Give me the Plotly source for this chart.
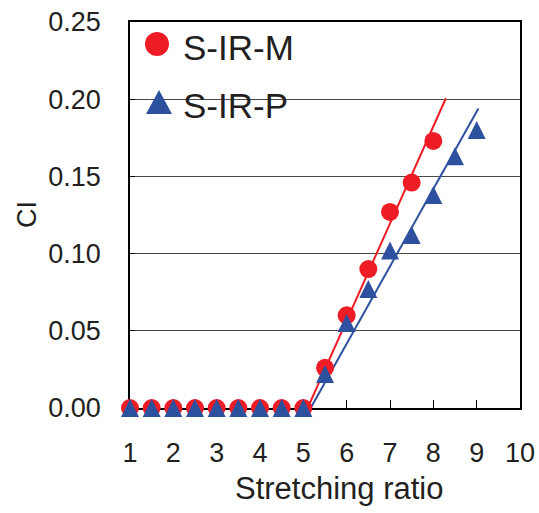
import plotly.graph_objects as go

# ---------------- data ----------------
series_names = ["S-IR-M", "S-IR-P"]
m_x = [1, 1.5, 2, 2.5, 3, 3.5, 4, 4.5, 5, 5.5, 6, 6.5, 7, 7.5, 8]
m_y = [0, 0, 0, 0, 0, 0, 0, 0, 0, 0.026, 0.060, 0.090, 0.127, 0.146, 0.173]
p_x = [1, 1.5, 2, 2.5, 3, 3.5, 4, 4.5, 5, 5.5, 6, 6.5, 7, 7.5, 8, 8.5, 9]
p_y = [0, 0, 0, 0, 0, 0, 0, 0, 0, 0.022, 0.055, 0.077, 0.102, 0.112, 0.138, 0.163, 0.180]
m_fit_x = [5.1, 8.29]
m_fit_y = [0.0, 0.2006]
p_fit_x = [5.17, 9.04]
p_fit_y = [0.0, 0.194]
x_ticks = [1, 2, 3, 4, 5, 6, 7, 8, 9, 10]
y_ticks = [0.00, 0.05, 0.10, 0.15, 0.20, 0.25]

RED = "#EE1C25"
BLUE = "#2E519F"
TXT = "#231F20"
FONT = "Liberation Sans, Arial, sans-serif"

W, H = 539, 513
L, R, T, B = 130, 19, 22, 105
PW, PH = W - L - R, H - T - B


def px(xp):
    return (xp - L) / PW


def py(yp):
    return (H - B - yp) / PH


fig = go.Figure()
fig.add_trace(go.Scatter(x=m_fit_x, y=m_fit_y, mode="lines",
                         line=dict(color=RED, width=2), showlegend=False, hoverinfo="skip"))
fig.add_trace(go.Scatter(x=p_fit_x, y=p_fit_y, mode="lines",
                         line=dict(color=BLUE, width=2), showlegend=False, hoverinfo="skip"))
fig.add_trace(go.Scatter(x=m_x, y=m_y, mode="markers", name=series_names[0],
                         marker=dict(symbol="circle", size=18, color=RED, line=dict(width=0)),
                         cliponaxis=False, showlegend=False))
fig.add_trace(go.Scatter(x=p_x, y=p_y, mode="markers", name=series_names[1],
                         marker=dict(symbol="arrow-down", angle=180, standoff=9, size=18,
                                     color=BLUE, line=dict(width=0)),
                         cliponaxis=False, showlegend=False))

axis_common = dict(showline=True, linecolor="#000000", linewidth=1.5, mirror=True,
                   ticks="inside", tickcolor="#000000", zeroline=False, automargin=False,
                   tickfont=dict(family=FONT, size=27, color=TXT), layer="below traces")

fig.update_xaxes(range=[1, 10], tickvals=x_ticks, ticklen=8, tickwidth=1.2,
                 showgrid=False, ticklabelstandoff=20, **axis_common)
fig.update_yaxes(range=[0, 0.25], tickvals=y_ticks, tickformat=".2f", ticklen=5, tickwidth=1.2,
                 showgrid=True, gridcolor="#4a4a4a", gridwidth=1.3,
                 ticklabelstandoff=22, **axis_common)

shapes = [
    # white legend background hiding the gridline behind the legend
    dict(type="rect", xref="paper", yref="paper", x0=px(131), x1=px(300), y0=py(125), y1=py(23),
         fillcolor="white", line=dict(width=0), layer="between"),
    # legend icons
    dict(type="circle", xref="paper", yref="paper", x0=px(145), x1=px(169), y0=py(56), y1=py(32),
         fillcolor=RED, line=dict(width=0), layer="above"),
    dict(type="path", xref="paper", yref="paper",
         path=f"M {px(146)} {py(114)} L {px(172)} {py(114)} L {px(159)} {py(90)} Z",
         fillcolor=BLUE, line=dict(width=0), layer="above"),
]

annotations = [
    dict(text=series_names[0], xref="paper", yref="paper", x=px(181), y=py(47),
         xanchor="left", yanchor="middle", showarrow=False,
         font=dict(family=FONT, size=35, color=TXT)),
    dict(text=series_names[1], xref="paper", yref="paper", x=px(181), y=py(105),
         xanchor="left", yanchor="middle", showarrow=False,
         font=dict(family=FONT, size=35, color=TXT)),
    dict(text="Stretching ratio", xref="paper", yref="paper", x=px(339), y=py(488),
         xanchor="center", yanchor="middle", showarrow=False,
         font=dict(family=FONT, size=31, color=TXT)),
    dict(text="CI", xref="paper", yref="paper", x=px(27), y=py(215), textangle=-90,
         xanchor="center", yanchor="middle", showarrow=False,
         font=dict(family=FONT, size=27, color=TXT)),
]

fig.update_layout(width=W, height=H, margin=dict(l=L, r=R, t=T, b=B),
                  paper_bgcolor="white", plot_bgcolor="white",
                  shapes=shapes, annotations=annotations, showlegend=False)

fig.write_html("out.html", config={"displayModeBar": False},
               post_script="document.body.style.margin='0';document.body.style.overflow='hidden';")
